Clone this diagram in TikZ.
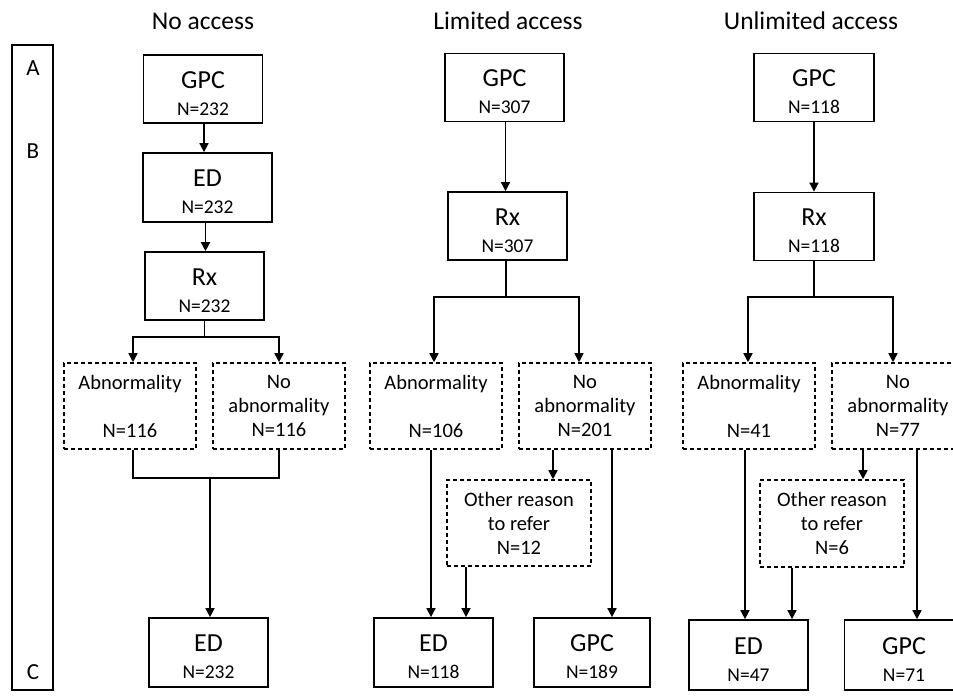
\documentclass[tikz,border=0pt]{standalone}
\usepackage{fontspec}
\setmainfont{Carlito}
\usetikzlibrary{arrows.meta,calc}
\newcommand\boxtitle[1]{{\fontsize{26}{27}\selectfont\rule{0pt}{26pt}#1}}
\begin{document}
\begin{tikzpicture}[x=1pt,y=-1pt,
  solidbox/.style={draw, line width=1.7pt, inner sep=0pt, align=center,
    minimum width=119pt, minimum height=68pt, font=\fontsize{19.5}{27}\selectfont},
  dashbox/.style={draw, line width=1.6pt, dash pattern=on 4pt off 3pt, inner sep=0pt, align=center,
    minimum width=132pt, minimum height=86pt, font=\fontsize{20.5}{24}\selectfont},
  hdr/.style={font=\fontsize{25.5}{28}\selectfont, inner sep=0pt},
  phase/.style={font=\fontsize{23}{24}\selectfont, inner sep=0pt},
  conn/.style={line width=1.6pt},
  arr/.style={line width=1.6pt, -{Triangle[length=9pt,width=9pt]}}]
\useasboundingbox (0,0) rectangle (953,697);

% phase column
\node[draw, line width=1.7pt, minimum width=41pt, minimum height=645pt, inner sep=0pt] (phases) at (32.5,367.5) {};
\node[phase] (pA) at (33,68) {A};
\node[phase] (pB) at (33,151) {B};
\node[phase] (pC) at (33,672) {C};

% headers
\node[hdr] (h1) at (203,21) {No access};
\node[hdr] (h2) at (508,21) {Limited access};
\node[hdr] (h3) at (811,21) {Unlimited access};

% ---------- No access ----------
\node[solidbox] (LGPC) at (203,89) {\boxtitle{GPC}\\N=232};
\node[solidbox, minimum width=129pt, minimum height=69pt] (LED) at (207.5,187.5) {\boxtitle{ED}\\N=232};
\node[solidbox] (LRx) at (204.5,286) {\boxtitle{Rx}\\N=232};
\node[dashbox] (LAb) at (130,406) {Abnormality\\\strut\\N=116};
\node[dashbox] (LNoAb) at (279,406) {No\\abnormality\\N=116};
\node[solidbox, minimum height=69pt] (LED2) at (208.5,652.5) {\boxtitle{ED}\\N=232};
\coordinate (Lsplit) at (204.5,337);
\coordinate (Lj) at (210,478);

\draw[arr] ([xshift=1pt]LGPC.south) -- ([xshift=1pt]LGPC.south |- LED.north);
\draw[arr] ([xshift=-2pt]LED.south) -- ([xshift=-2pt]LED.south |- LRx.north);
\draw[conn] (LRx.south) -- (Lsplit);
\draw[arr] (Lsplit) -| ([xshift=3pt]LAb.north);
\draw[arr] (Lsplit) -| (LNoAb.north);
\draw[conn] ([xshift=3pt]LAb.south) |- (Lj) -| (LNoAb.south);
\draw[arr] (Lj) -- (Lj |- LED2.north);

% ---------- Limited access ----------
\node[solidbox] (MGPC) at (504.5,87.5) {\boxtitle{GPC}\\N=307};
\node[solidbox] (MRx) at (507.5,226) {\boxtitle{Rx}\\N=307};
\node[dashbox] (MAb) at (436,406) {Abnormality\\\strut\\N=106};
\node[dashbox] (MNoAb) at (585,406) {No\\abnormality\\N=201};
\node[dashbox, minimum width=144pt] (MOth) at (519,523) {Other reason\\to refer\\N=12};
\node[solidbox, minimum height=69pt] (MED) at (433.5,652.5) {\boxtitle{ED}\\N=118};
\node[solidbox, minimum width=116pt, minimum height=69pt] (MGPC2) at (592,652.5) {\boxtitle{GPC}\\N=189};
\coordinate (Msplit) at (506,297);

\draw[arr] ([xshift=1pt]MGPC.south) -- ([xshift=1pt]MGPC.south |- MRx.north);
\draw[conn] ([xshift=-1.5pt]MRx.south) -- (Msplit);
\draw[arr] (Msplit) -| ([xshift=-2pt]MAb.north);
\draw[arr] (Msplit) -| ([xshift=-6pt]MNoAb.north);
\draw[arr] ([xshift=-32pt]MNoAb.south) -- ([xshift=-32pt]MNoAb.south |- MOth.north);
\draw[arr] ([xshift=-5pt]MAb.south) -- ([xshift=-5pt]MAb.south |- MED.north);
\draw[arr] ([xshift=-53pt]MOth.south) -- ([xshift=-53pt]MOth.south |- MED.north);
\draw[arr] ([xshift=27pt]MNoAb.south) -- ([xshift=27pt]MNoAb.south |- MGPC2.north);

% ---------- Unlimited access ----------
\node[solidbox, minimum width=120pt] (RGPC) at (814,87.5) {\boxtitle{GPC}\\N=118};
\node[solidbox, minimum width=120pt] (RRx) at (814,226.5) {\boxtitle{Rx}\\N=118};
\node[dashbox] (RAb) at (749,406) {Abnormality\\\strut\\N=41};
\node[dashbox] (RNoAb) at (898,406) {No\\abnormality\\N=77};
\node[dashbox, minimum width=144pt, minimum height=87pt] (ROth) at (832,523.5) {Other reason\\to refer\\N=6};
\node[solidbox, minimum height=70pt] (RED) at (748.5,655) {\boxtitle{ED}\\N=47};
\node[solidbox, minimum height=70pt] (RGPC2) at (904,655) {\boxtitle{GPC}\\N=71};
\coordinate (Rsplit) at (814,297);

\draw[arr] (RGPC.south) -- (RGPC.south |- RRx.north);
\draw[conn] (RRx.south) -- (Rsplit);
\draw[arr] (Rsplit) -| ([xshift=-1pt]RAb.north);
\draw[arr] (Rsplit) -| ([xshift=-5pt]RNoAb.north);
\draw[arr] ([xshift=-35pt]RNoAb.south) -- ([xshift=-35pt]RNoAb.south |- ROth.north);
\draw[arr] ([xshift=-4pt]RAb.south) -- ([xshift=-4pt]RAb.south |- RED.north);
\draw[arr] ([xshift=-40pt]ROth.south) -- ([xshift=-40pt]ROth.south |- RED.north);
\draw[arr] ([xshift=19pt]RNoAb.south) -- ([xshift=19pt]RNoAb.south |- RGPC2.north);
\end{tikzpicture}
\end{document}
